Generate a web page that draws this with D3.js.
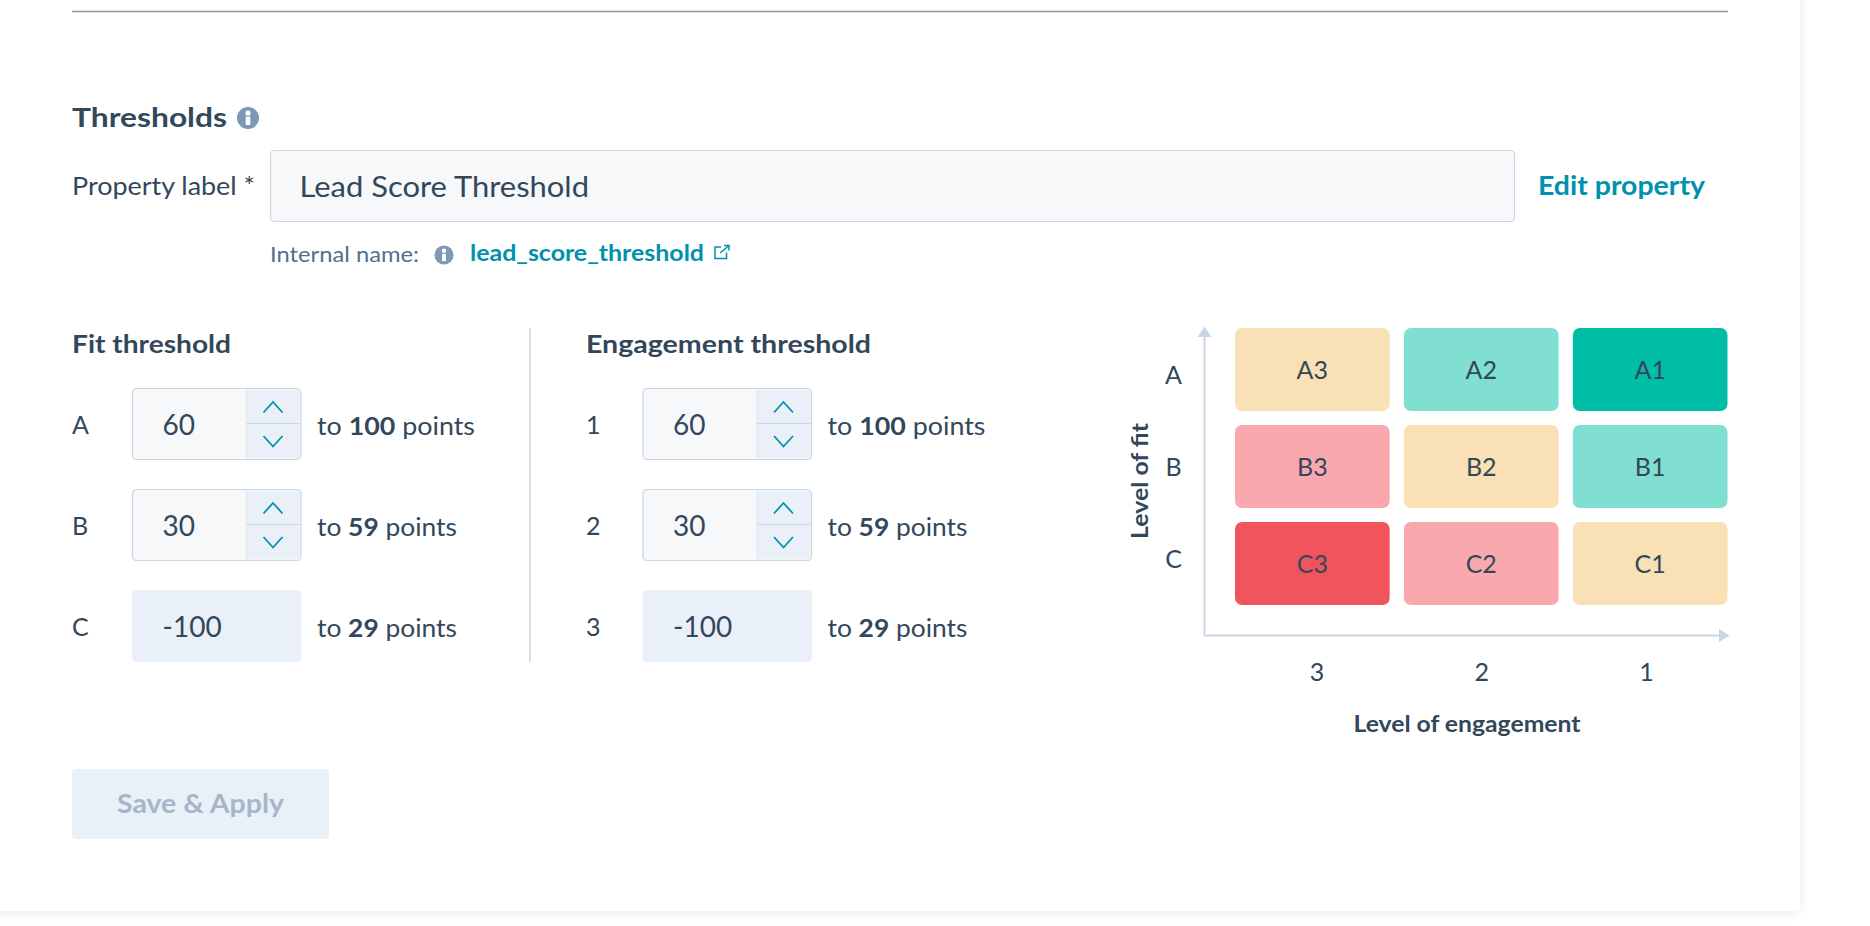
<!DOCTYPE html>
<html>
<head>
<meta charset="utf-8">
<title>Thresholds</title>
<script src="https://cdn.jsdelivr.net/npm/d3@7"></script>
<style>
  html, body { margin: 0; padding: 0; background: #fff; overflow: hidden; }
  svg { display: block; }
  text { font-family: "Lato", "Noto Sans", sans-serif; fill: #33475b; }
  .tick text { font-family: "Lato", "Noto Sans", sans-serif; }
</style>
</head>
<body>
<script>
// Values
var fitLevels = ["A", "B", "C"];
var engagementLevels = ["3", "2", "1"];
var fitRowLabels = ["A", "B", "C"];
var engagementRowLabels = ["1", "2", "3"];
var lowerBounds = [60, 30, -100];
var upperBounds = [100, 59, 29];
var steppers = [true, true, false];
var cellTiers = [
    ["mid", "good", "top"],
    ["weak", "mid", "good"],
    ["bad", "weak", "mid"]
];
var tierNames = ["top", "good", "mid", "weak", "bad"];
var tierColours = ["#00bda5", "#80dfd1", "#f9e0b5", "#f9a9ae", "#f2545b"];

const W = 1870, H = 926;
const INK = "#33475b", LINK = "#0091ae", LINE = "#cbd6e2", PALE = "#eaf0f8", FIELD = "#f6f8fa", DIM = "#a6b6ca";

var svg = d3.select("body").append("svg")
    .attr("width", W)
    .attr("height", H);

var defs = svg.append("defs");
var blur = defs.append("filter").attr("id", "cardShadow")
    .attr("x", "-5%").attr("y", "-5%").attr("width", "110%").attr("height", "110%");
blur.append("feDropShadow")
    .attr("dx", 0).attr("dy", 2).attr("stdDeviation", 5)
    .attr("flood-color", "#000").attr("flood-opacity", 0.09);

// page card, runs off the top and left of the shot
svg.append("rect")
    .attr("x", -20).attr("y", -20)
    .attr("width", 1820).attr("height", 931)
    .attr("rx", 6)
    .attr("fill", "#fff")
    .attr("filter", "url(#cardShadow)");

svg.append("line")
    .attr("x1", 72).attr("x2", 1728)
    .attr("y1", 11.5).attr("y2", 11.5)
    .attr("stroke", "#999").attr("stroke-width", 1.3);

/**
 * Adds a text squeezed to the width it has in the picture
 */
function label(x, y, str, size, weight, len, colour, parent){
    var t = (parent || svg).append("text")
        .attr("x", x).attr("y", y)
        .attr("font-size", size)
        .attr("font-weight", weight || 400)
        .text(str);
    if(len){
        t.attr("textLength", len).attr("lengthAdjust", "spacingAndGlyphs");
    }
    if(colour){
        t.style("fill", colour);
    }
    return t;
}

function infoIcon(cx, cy, r){
    var g = svg.append("g").attr("transform", "translate(" + cx + "," + cy + ")");
    g.append("circle").attr("r", r).attr("fill", "#7c98b6");
    g.append("circle").attr("cy", -r * 0.45).attr("r", r * 0.24).attr("fill", "#fff");
    g.append("rect")
        .attr("x", -r * 0.21).attr("y", -r * 0.12)
        .attr("width", r * 0.42).attr("height", r * 0.76)
        .attr("fill", "#fff");
}

// header
label(72, 127, "Thresholds", 27, 700, 155);
infoIcon(248, 118, 11);

label(72, 195, "Property label *", 25, 400, 183);
svg.append("rect")
    .attr("x", 270.5).attr("y", 150.5)
    .attr("width", 1244).attr("height", 71)
    .attr("rx", 4)
    .attr("fill", FIELD).attr("stroke", LINE).attr("stroke-width", 1.2);
label(299.5, 197, "Lead Score Threshold", 29.5, 400, 289.5);
label(1538, 194.5, "Edit property", 27, 700, 167, LINK);

label(270, 262, "Internal name:", 21.5, 400, 149, "#516f90");
infoIcon(444, 255, 9.5);
label(470, 260.5, "lead_score_threshold", 22.5, 700, 234, LINK);

// little external link icon
var ext = svg.append("g")
    .attr("fill", "none").attr("stroke", LINK).attr("stroke-width", 1.5);
ext.append("path").attr("d", "M721,247 h-6 v11.5 h11.5 v-6");
ext.append("path").attr("d", "M720,253 L729,245.5 M724,245.5 h5 v5");

// threshold columns
var rowY = d3.scaleBand()
    .domain(d3.range(3))
    .range([388.5, 661.5])
    .paddingInner(30 / 101);

var chevron = d3.line();

function thresholdColumn(opts){
    var g = svg.append("g");
    label(opts.x, 353, opts.title, 25, 700, opts.titleLen, null, g);

    var rows = g.selectAll(".row")
        .data(lowerBounds)
        .enter().append("g")
        .attr("class", "row")
        .attr("transform", function(d, i){ return "translate(0," + rowY(i) + ")"; });

    rows.append("rect")
        .attr("x", opts.boxX).attr("width", 168.5)
        .attr("height", rowY.bandwidth())
        .attr("rx", 4)
        .attr("fill", function(d, i){ return steppers[i] ? FIELD : PALE; })
        .attr("stroke", function(d, i){ return steppers[i] ? LINE : PALE; })
        .attr("stroke-width", 1.2);

    rows.append("text")
        .attr("x", opts.x)
        .attr("y", 45)
        .attr("font-size", 25)
        .text(function(d, i){ return opts.rowLabels[i]; });

    rows.append("text")
        .attr("x", opts.boxX + 30)
        .attr("y", 46)
        .attr("font-size", 28)
        .text(function(d){ return d; });

    // "to N points", bold number
    var tail = rows.append("text")
        .attr("x", opts.boxX + 184.5)
        .attr("y", 46)
        .attr("font-size", 25)
        .attr("textLength", function(d, i){ return i === 0 ? 158 : 140; })
        .attr("lengthAdjust", "spacingAndGlyphs");
    tail.append("tspan").text("to ");
    tail.append("tspan").attr("font-weight", 700).text(function(d, i){ return upperBounds[i]; });
    tail.append("tspan").text(" points");

    // stepper buttons on the editable rows only
    var spin = rows.filter(function(d, i){ return steppers[i]; })
        .append("g").attr("transform", "translate(" + (opts.boxX + 114) + ",0)");
    spin.append("rect")
        .attr("x", 0).attr("y", 1.2)
        .attr("width", 53.5).attr("height", rowY.bandwidth() - 2.4)
        .attr("fill", PALE);
    spin.append("line")
        .attr("x1", 0).attr("x2", 0)
        .attr("y1", 1).attr("y2", rowY.bandwidth() - 1)
        .attr("stroke", "#dde5ef");
    spin.append("line")
        .attr("x1", 0).attr("x2", 53.5)
        .attr("y1", 35).attr("y2", 35)
        .attr("stroke", LINE);
    spin.append("path")
        .attr("d", chevron([[17, 24], [26.5, 13.5], [36, 24]]))
        .attr("fill", "none").attr("stroke", LINK).attr("stroke-width", 1.8);
    spin.append("path")
        .attr("d", chevron([[17, 47.5], [26.5, 58], [36, 47.5]]))
        .attr("fill", "none").attr("stroke", LINK).attr("stroke-width", 1.8);
}

thresholdColumn({x: 72, boxX: 132.5, title: "Fit threshold", titleLen: 159, rowLabels: fitRowLabels});
thresholdColumn({x: 586, boxX: 643, title: "Engagement threshold", titleLen: 285, rowLabels: engagementRowLabels});

svg.append("line")
    .attr("x1", 530).attr("x2", 530)
    .attr("y1", 328).attr("y2", 662)
    .attr("stroke", LINE).attr("stroke-width", 1.5);

// save button
svg.append("rect")
    .attr("x", 72).attr("y", 769)
    .attr("width", 257).attr("height", 70)
    .attr("rx", 4)
    .attr("fill", PALE);
label(117, 813, "Save & Apply", 26, 700, 167, DIM);

// fit / engagement matrix
var x = d3.scaleBand()
    .domain(engagementLevels)
    .range([1235, 1727.5])
    .paddingInner(0.0845);
var y = d3.scaleBand()
    .domain(fitLevels)
    .range([328, 605])
    .paddingInner(0.145);
var tierColour = d3.scaleOrdinal()
    .domain(tierNames)
    .range(tierColours);

var cells = [];
fitLevels.forEach(function(fit, r){
    engagementLevels.forEach(function(eng, c){
        cells.push({fit: fit, eng: eng, tier: cellTiers[r][c]});
    });
});

var matrix = svg.append("g");
matrix.selectAll(".cell")
    .data(cells)
    .enter().append("rect")
    .attr("class", "cell")
    .attr("x", function(d){ return x(d.eng); })
    .attr("y", function(d){ return y(d.fit); })
    .attr("width", x.bandwidth())
    .attr("height", y.bandwidth())
    .attr("rx", 7)
    .attr("fill", function(d){ return tierColour(d.tier); });
matrix.selectAll(".cellLabel")
    .data(cells)
    .enter().append("text")
    .attr("class", "cellLabel")
    .attr("x", function(d){ return x(d.eng) + x.bandwidth() / 2; })
    .attr("y", function(d){ return y(d.fit) + y.bandwidth() / 2 + 9.5; })
    .attr("text-anchor", "middle")
    .attr("font-size", 25)
    .text(function(d){ return d.fit + d.eng; });

// the tick labels sit a bit tighter than the cells so they get their own scales
var tickX = d3.scalePoint().domain(engagementLevels).range([1316.5, 1646]);
var tickY = d3.scalePoint().domain(fitLevels).range([375, 559]);

var xAxis = svg.append("g")
    .attr("transform", "translate(0,636)")
    .call(d3.axisBottom(tickX).tickSize(0).tickPadding(27));
var yAxis = svg.append("g")
    .attr("transform", "translate(1204.5,0)")
    .call(d3.axisLeft(tickY).tickSize(0).tickPadding(22));
[xAxis, yAxis].forEach(function(axis){
    axis.select(".domain").remove();
    axis.selectAll("text")
        .attr("font-size", 25)
        .style("font-family", null)
        .attr("font-family", null);
    axis.attr("font-size", null).attr("font-family", null);
});
yAxis.selectAll("text").attr("text-anchor", "middle").attr("x", -31);

var axisLines = svg.append("g");
axisLines.append("path")
    .attr("d", "M1204.5,336 V635.5 H1720")
    .attr("fill", "none").attr("stroke", LINE).attr("stroke-width", 2);
axisLines.append("path").attr("d", "M1204.5,326.5 L1211.5,337 H1197.5 Z").attr("fill", LINE);
axisLines.append("path").attr("d", "M1729.5,635.5 L1719,629 V642 Z").attr("fill", LINE);

label(1353.5, 732, "Level of engagement", 23, 700, 227);
label(0, 0, "Level of fit", 23, 700, 116)
    .attr("transform", "translate(1148,539) rotate(-90)");
</script>
</body>
</html>
